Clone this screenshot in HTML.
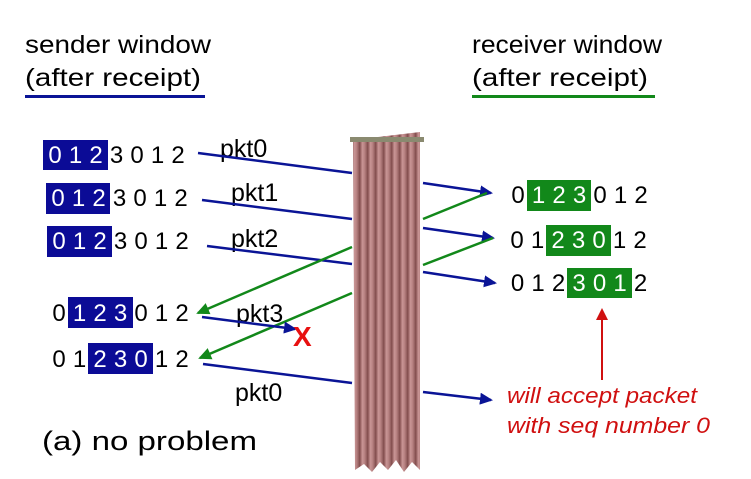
<!DOCTYPE html>
<html><head><meta charset="utf-8"><style>
html,body{margin:0;padding:0;background:#fff;}
svg{display:block;font-family:"Liberation Sans",sans-serif;}
</style></head><body>
<svg width="751" height="479" viewBox="0 0 751 479" xmlns="http://www.w3.org/2000/svg">
<defs>
<linearGradient id="cur" x1="0" x2="1" y1="0" y2="0" spreadMethod="repeat">
<stop offset="0" stop-color="#8a5555"/>
<stop offset="0.3" stop-color="#c99595"/>
<stop offset="0.6" stop-color="#b58080"/>
<stop offset="1" stop-color="#7e4a4a"/>
</linearGradient>
<pattern id="stripes" width="8" height="10" patternUnits="userSpaceOnUse">
<rect width="8" height="10" fill="url(#cur)"/>
</pattern>
<marker id="ab" markerWidth="13" markerHeight="12" refX="11" refY="6" orient="auto" markerUnits="userSpaceOnUse"><path d="M0,0 L13,6 L0,12 z" fill="#0a1496"/></marker>
<marker id="ag" markerWidth="13" markerHeight="12" refX="11" refY="6" orient="auto" markerUnits="userSpaceOnUse"><path d="M0,0 L13,6 L0,12 z" fill="#12881a"/></marker>
<marker id="ar" markerWidth="12" markerHeight="12" refX="10" refY="6" orient="auto" markerUnits="userSpaceOnUse"><path d="M0,0 L12,6 L0,12 z" fill="#d01010"/></marker>
</defs>

<g font-size="25" fill="#000">
<text x="25" y="53" textLength="186" lengthAdjust="spacingAndGlyphs">sender window</text>
<text x="25" y="86" textLength="176" lengthAdjust="spacingAndGlyphs">(after receipt)</text>
<text x="472" y="53" textLength="190" lengthAdjust="spacingAndGlyphs">receiver window</text>
<text x="472" y="86" textLength="176" lengthAdjust="spacingAndGlyphs">(after receipt)</text>
</g>
<rect x="25" y="95" width="180" height="3" fill="#0a1496"/>
<rect x="472" y="95" width="183" height="3" fill="#12881a"/>

<polygon points="353,140 420,132 420,470 412,462 404,472 396,460 388,470 380,462 372,472 364,464 355,470" fill="url(#stripes)"/>
<rect x="350" y="137" width="74" height="5" fill="#8a8a70"/>

<g fill="#0b0b96">
<rect x="43" y="140" width="65" height="30"/>
<rect x="46" y="183" width="64" height="31"/>
<rect x="47" y="226" width="65" height="31"/>
<rect x="68" y="297" width="65" height="31"/>
<rect x="88" y="343" width="65" height="31"/>
</g>
<g fill="#12881a">
<rect x="527" y="180" width="64" height="31"/>
<rect x="546" y="225" width="65" height="31"/>
<rect x="567" y="268" width="65" height="30"/>
</g>

<g font-size="24" text-anchor="middle">
<g fill="#fff"><text x="55" y="163">0</text><text x="75.5" y="163">1</text><text x="96" y="163">2</text></g>
<text x="116.5" y="163">3</text><text x="137" y="163">0</text><text x="157.5" y="163">1</text><text x="178" y="163">2</text>
<g fill="#fff"><text x="58" y="206">0</text><text x="78.5" y="206">1</text><text x="99" y="206">2</text></g>
<text x="119.5" y="206">3</text><text x="140" y="206">0</text><text x="160.5" y="206">1</text><text x="181" y="206">2</text>
<g fill="#fff"><text x="59" y="249">0</text><text x="79.5" y="249">1</text><text x="100" y="249">2</text></g>
<text x="120.5" y="249">3</text><text x="141" y="249">0</text><text x="161.5" y="249">1</text><text x="182" y="249">2</text>
<text x="59" y="321">0</text>
<g fill="#fff"><text x="79.5" y="321">1</text><text x="100" y="321">2</text><text x="120.5" y="321">3</text></g>
<text x="141" y="321">0</text><text x="161.5" y="321">1</text><text x="182" y="321">2</text>
<text x="59" y="367">0</text><text x="79.5" y="367">1</text>
<g fill="#fff"><text x="100" y="367">2</text><text x="120.5" y="367">3</text><text x="141" y="367">0</text></g>
<text x="161.5" y="367">1</text><text x="182" y="367">2</text>
<text x="518" y="203">0</text>
<g fill="#fff"><text x="538.5" y="203">1</text><text x="559" y="203">2</text><text x="579.5" y="203">3</text></g>
<text x="600" y="203">0</text><text x="620.5" y="203">1</text><text x="641" y="203">2</text>
<text x="517" y="248">0</text><text x="537.5" y="248">1</text>
<g fill="#fff"><text x="558" y="248">2</text><text x="578.5" y="248">3</text><text x="599" y="248">0</text></g>
<text x="619.5" y="248">1</text><text x="640" y="248">2</text>
<text x="517.5" y="291">0</text><text x="538" y="291">1</text><text x="558.5" y="291">2</text>
<g fill="#fff"><text x="579" y="291">3</text><text x="599.5" y="291">0</text><text x="620" y="291">1</text></g>
<text x="640.5" y="291">2</text>
</g>

<g font-size="25">
<text x="220" y="157">pkt0</text>
<text x="231" y="201">pkt1</text>
<text x="231" y="247">pkt2</text>
<text x="236" y="322">pkt3</text>
<text x="235" y="401">pkt0</text>
</g>

<g stroke-width="2.5" fill="none">
<line x1="198" y1="153" x2="352" y2="173" stroke="#0a1496"/>
<line x1="202" y1="200" x2="352" y2="219" stroke="#0a1496"/>
<line x1="207" y1="246" x2="352" y2="264" stroke="#0a1496"/>
<line x1="352" y1="247" x2="198" y2="313" stroke="#12881a" marker-end="url(#ag)"/>
<line x1="352" y1="293" x2="200" y2="358" stroke="#12881a" marker-end="url(#ag)"/>
<line x1="202" y1="317" x2="295" y2="329" stroke="#0a1496" marker-end="url(#ab)"/>
<line x1="203" y1="364" x2="352" y2="383" stroke="#0a1496"/>
<line x1="423" y1="183" x2="491" y2="193" stroke="#0a1496" marker-end="url(#ab)"/>
<line x1="423" y1="228" x2="493" y2="238" stroke="#0a1496" marker-end="url(#ab)"/>
<line x1="423" y1="272" x2="495" y2="283" stroke="#0a1496" marker-end="url(#ab)"/>
<line x1="423" y1="219" x2="487" y2="193" stroke="#12881a"/>
<line x1="423" y1="265" x2="493" y2="238" stroke="#12881a"/>
<line x1="423" y1="392" x2="491" y2="400" stroke="#0a1496" marker-end="url(#ab)"/>
<line x1="602" y1="380" x2="602" y2="310" stroke="#d01010" stroke-width="2" marker-end="url(#ar)"/>
</g>

<text x="293" y="346" font-size="28" font-weight="bold" fill="#e81010">X</text>

<g font-size="22" font-style="italic" fill="#d01010">
<text x="507" y="403" textLength="190" lengthAdjust="spacingAndGlyphs">will accept packet</text>
<text x="507" y="433" textLength="203" lengthAdjust="spacingAndGlyphs">with seq number 0</text>
</g>

<text x="42" y="450" font-size="27" textLength="215" lengthAdjust="spacingAndGlyphs">(a) no problem</text>
</svg>
</body></html>
